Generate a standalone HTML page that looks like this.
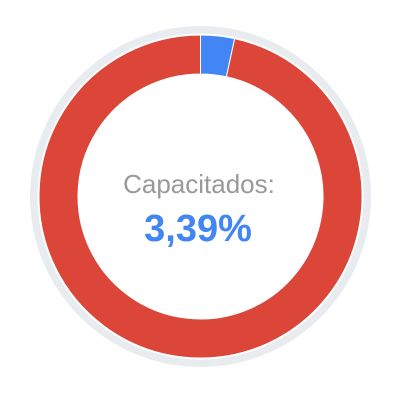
<!DOCTYPE html>
<html><head><meta charset="utf-8"><style>
html,body{margin:0;padding:0;background:#fff;width:400px;height:400px;overflow:hidden}
</style></head><body>
<svg id="chart" width="400" height="400" viewBox="0 0 400 400">
<circle cx="200.5" cy="196.5" r="170.5" fill="#e9ecef"/>
<circle cx="200.5" cy="196.5" r="163" fill="#fff"/>
<g id="slices"></g>
<text x="199" y="193" text-anchor="middle" font-family="Liberation Sans, sans-serif" font-size="26" fill="#999">Capacitados:</text>
<text x="198" y="241" text-anchor="middle" font-family="Liberation Sans, sans-serif" font-weight="bold" font-size="38" fill="#4285f4">3,39%</text>
</svg>
<script>
const categories = ["Capacitados", "No capacitados"];
const values = [3.39, 96.61];
const colors = ["#4285f4", "#db4639"];
const cx = 200.5, cy = 196.5, ro = 161.5, ri = 122.5;
const g = document.getElementById('slices');
const total = values.reduce((a, b) => a + b, 0);
let a0 = 0;
function pt(r, a) { return [cx + r * Math.sin(a), cy - r * Math.cos(a)]; }
values.forEach((v, i) => {
  const a1 = a0 + v / total * 2 * Math.PI;
  const large = (a1 - a0) > Math.PI ? 1 : 0;
  const [x0, y0] = pt(ro, a0), [x1, y1] = pt(ro, a1), [x2, y2] = pt(ri, a1), [x3, y3] = pt(ri, a0);
  const p = document.createElementNS('http://www.w3.org/2000/svg', 'path');
  p.setAttribute('d', `M${x0},${y0}A${ro},${ro} 0 ${large} 1 ${x1},${y1}L${x2},${y2}A${ri},${ri} 0 ${large} 0 ${x3},${y3}Z`);
  p.setAttribute('fill', colors[i]);
  p.setAttribute('stroke', '#fff');
  p.setAttribute('stroke-width', '1');
  
  
  g.appendChild(p);
  a0 = a1;
});
</script>
</body></html>
